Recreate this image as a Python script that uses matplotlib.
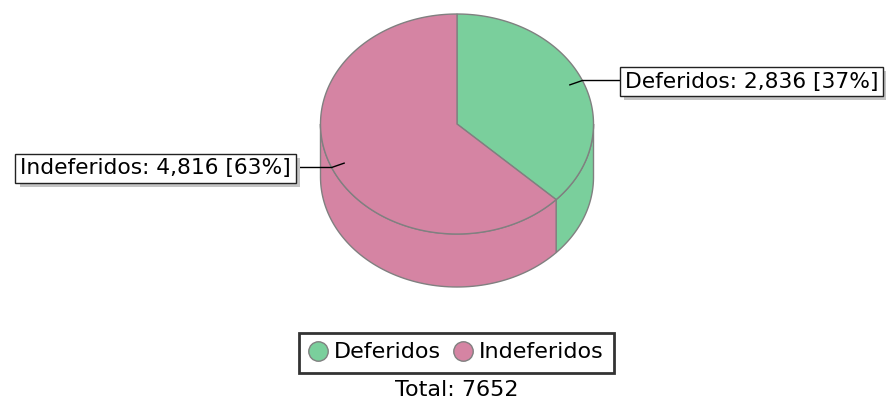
import numpy as np
import matplotlib.pyplot as plt
from matplotlib.patches import Polygon
from matplotlib.lines import Line2D
from matplotlib import patheffects

labels = ['Deferidos', 'Indeferidos']
values = [2836, 4816]
colors = ['#7acf9c', '#d584a3']
edge = '#808080'

total = sum(values)
cx, cy = 457, 124      # top ellipse center (pixels)
rx, ry = 136.5, 110
depth = 53

fig = plt.figure(figsize=(8.86, 4.03), dpi=100)
ax = fig.add_axes([0, 0, 1, 1])
ax.set_xlim(0, 886)
ax.set_ylim(403, 0)
ax.axis('off')


def pt(a, r=1.0, dz=0):
    t = np.radians(a)
    return cx + rx * r * np.cos(t), cy - ry * r * np.sin(t) + dz


# slices go clockwise from 12 o'clock
starts, ends = [], []
a = 90.0
for v in values:
    span = 360.0 * v / total
    starts.append(a - span)
    ends.append(a)
    a -= span

# side walls (front half only: angles 180..360)
for s, e, c in zip(starts, ends, colors):
    lo, hi = s % 360, s % 360 + (e - s)
    for off in (0, 360, -360):
        a0 = max(lo + off, 180)
        a1 = min(hi + off, 360)
        if a1 > a0:
            th = np.linspace(a0, a1, 80)
            x, y = pt(th)
            xs = np.concatenate([x, x[::-1]])
            ys = np.concatenate([y, (y + depth)[::-1]])
            ax.add_patch(Polygon(np.column_stack([xs, ys]), closed=True,
                                 facecolor=c, edgecolor=edge, lw=1))

# top faces
for s, e, c in zip(starts, ends, colors):
    th = np.linspace(s, e, 150)
    x, y = pt(th)
    xs = np.concatenate([[cx], x])
    ys = np.concatenate([[cy], y])
    ax.add_patch(Polygon(np.column_stack([xs, ys]), closed=True,
                         facecolor=c, edgecolor=edge, lw=1))

# labels with leader lines
box_x = {'Deferidos': 620, 'Indeferidos': 296}
for lab, v, s, e in zip(labels, values, starts, ends):
    mid = (s + e) / 2
    x0, y0 = pt(mid, 0.9)
    x1, y1 = pt(mid, 1.0)
    bx = box_x[lab]
    ax.plot([x0, x1, bx], [y0, y1, y1], color='black', lw=1)
    txt = f'{lab}: {v:,} [{round(100 * v / total)}%]'
    ha = 'left' if bx > cx else 'right'
    tx = bx + 5 if ha == 'left' else bx - 5
    t = ax.text(tx, y1 + 1, txt, fontsize=15.7, ha=ha, va='center', color='black',
                bbox=dict(boxstyle='square,pad=0.22', facecolor='white',
                          edgecolor='#222222', lw=1))
    t.get_bbox_patch().set_path_effects([
        patheffects.SimplePatchShadow(offset=(3, -3), shadow_rgbFace='#c4c4c4', alpha=1),
        patheffects.Normal()])

handles = [Line2D([], [], marker='o', ls='', markersize=14, markerfacecolor=c,
                  markeredgecolor=edge) for c in colors]
leg = ax.legend(handles, labels, loc='center', bbox_to_anchor=(456.5 / 886, 1 - 352.5 / 403),
                ncol=2, fontsize=16, frameon=True, fancybox=False, handlelength=0.8,
                handletextpad=0.3, columnspacing=0.6, borderpad=0.45, borderaxespad=0)
leg.get_frame().set_edgecolor('black')
leg.get_frame().set_linewidth(2)

ax.text(457, 390, f'Total: {total}', fontsize=16, ha='center', va='center')

fig.savefig('out.png', dpi=100)
